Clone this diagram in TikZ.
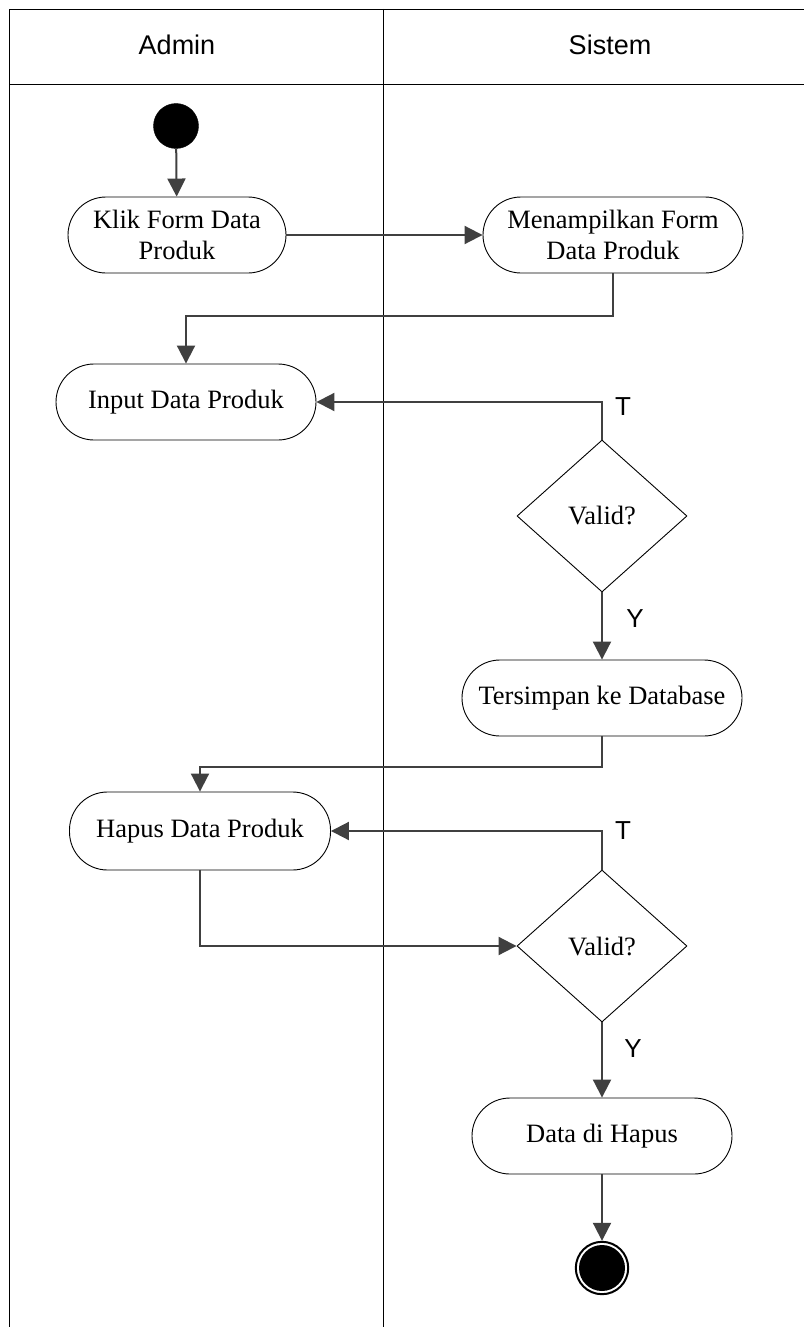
\documentclass[tikz,border=0pt]{standalone}
\usepackage{fontspec}
\setmainfont{Liberation Serif}
\newfontfamily\lanefont{Liberation Sans}
\usetikzlibrary{shapes.geometric,arrows.meta}
\definecolor{connclr}{HTML}{404040}
\begin{document}
\begin{tikzpicture}[x=1pt,y=-1pt,
  actbox/.style={draw=black,line width=0.9pt,rectangle,rounded corners=38pt,
    minimum height=76pt,inner sep=2pt,align=center,
    font=\fontsize{26.5}{31}\selectfont},
  decide/.style={draw=black,line width=0.9pt,diamond,aspect=1.118,
    minimum width=170pt,minimum height=152pt,inner sep=0pt,
    font=\fontsize{26.5}{31}\selectfont},
  conn/.style={draw=connclr,line width=2pt,
    -{Triangle[length=18pt,width=18pt]}},
  lanetext/.style={font=\lanefont\fontsize{27}{32}\selectfont},
  guard/.style={font=\lanefont\fontsize{26}{30}\selectfont,inner sep=0pt}]
\useasboundingbox (0,0) rectangle (804,1327);

% swimlane frame
\draw[line width=0.9pt] (9,1327) -- (9,9) -- (804,9);
\draw[line width=0.9pt] (9,84) -- (804,84);
\draw[line width=0.9pt] (383,9) -- (383,1327);
\node[lanetext] (laneA) at (177,45) {Admin};
\node[lanetext] (laneS) at (610,45) {Sistem};

% activity nodes
\node[circle,fill=black,draw=black,minimum size=45pt,inner sep=0pt] (start) at (176,126) {};
\node[actbox,minimum width=218pt] (klik) at (177,235) {Klik Form Data\\Produk};
\node[actbox,minimum width=260pt] (tampil) at (613,235) {Menampilkan Form\\Data Produk};
\node[actbox,minimum width=260pt] (input) at (186,402) {Input Data Produk};
\node[decide] (d1) at (602,516) {Valid?};
\node[actbox,minimum width=280pt] (simpan) at (602,698) {Tersimpan ke Database};
\node[actbox,minimum width=261pt,minimum height=78pt] (hapus) at (200,831) {Hapus Data Produk};
\node[decide] (d2) at (602,946) {Valid?};
\node[actbox,minimum width=260pt] (hapusd) at (602,1136) {Data di Hapus};
\node[circle,draw=black,fill=white,line width=2pt,minimum size=52.4pt,inner sep=0pt] (stop) at (602,1268) {};
\fill[black] (stop.center) circle (23pt);

% connectors
\draw[conn] (start) -- (klik);
\draw[conn] (klik) -- (tampil);
\draw[conn] (tampil.south) -- ++(0,43) -| (input.north);
\draw[conn] (d1.north) |- (input.east);
\draw[conn] (d1.south) -- (simpan.north);
\draw[conn] (simpan.south) -- ++(0,31) -| (hapus.north);
\draw[conn] (d2.north) |- (hapus.east);
\draw[conn] (hapus.south) |- (d2.west);
\draw[conn] (d2.south) -- (hapusd.north);
\draw[conn] (hapusd.south) -- (stop.north);

% guard labels
\node[guard] (t1) at (623,407) {T};
\node[guard] (y1) at (635,619) {Y};
\node[guard] (t2) at (623,831) {T};
\node[guard] (y2) at (633,1049) {Y};
\end{tikzpicture}
\end{document}
